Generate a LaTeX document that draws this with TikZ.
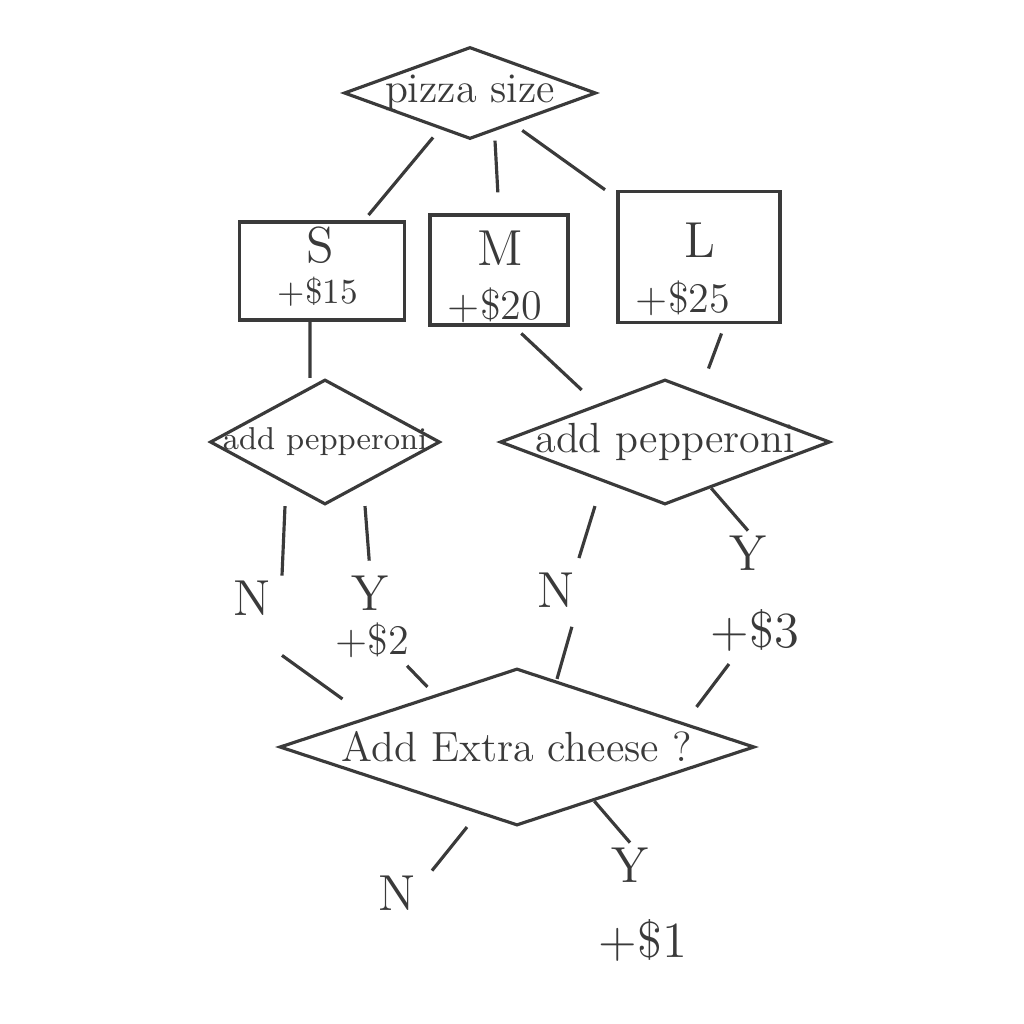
\documentclass[tikz,border=0pt]{standalone}
\usepackage{tikz}
\usetikzlibrary{shapes.geometric}
\definecolor{pen}{HTML}{3A3A3A}

\begin{document}
\begin{tikzpicture}[color=pen, line width=0.9pt,
        choice/.style={draw, diamond, inner sep=0pt},
        sizebox/.style={draw, rectangle, inner sep=0pt},
        answer/.style={font=\Large, inner sep=1pt}]
        \useasboundingbox (0,0) rectangle (10.24,-10.24);
    % The diamonds are the questions.
        \node[choice, minimum width=2.52cm, minimum height=0.92cm, label={[font=\large]center:pizza size}] (size) at (4.70,-0.93) {};
        \node[choice, minimum width=2.30cm, minimum height=1.25cm, label={[font=\small]center:add pepperoni}] (pepl) at (3.25,-4.42) {};
        \node[choice, minimum width=3.30cm, minimum height=1.25cm, label={[font=\large]center:add pepperoni}] (pepr) at (6.65,-4.42) {};
        \node[choice, minimum width=4.75cm, minimum height=1.57cm, label={[font=\large]center:Add Extra cheese ?}] (cheese) at (5.17,-7.47) {};
    % Boxes for the sizes.
        \node[sizebox, minimum width=1.65cm, minimum height=0.98cm] (s) at (3.22,-2.71) {};
        \node[sizebox, minimum width=1.38cm, minimum height=1.10cm] (m) at (4.99,-2.70) {};
        \node[sizebox, minimum width=1.62cm, minimum height=1.31cm] (l) at (6.99,-2.57) {};
    % Below nodes are the labels.
        \node[answer] (stxt) at (3.20,-2.45) {S};
        \node[] (sprice) at (3.18,-2.92) {+\$15};
        \node[answer] (mtxt) at (5.00,-2.48) {M};
        \node[font=\large] (mprice) at (4.95,-3.05) {+\$20};
        \node[answer] (ltxt) at (7.00,-2.40) {L};
        \node[font=\large] (lprice) at (6.83,-2.98) {+\$25};
        \node[answer] (nl) at (2.52,-5.98) {N};
        \node[answer] (yl) at (3.70,-5.93) {Y};
        \node[font=\large] (pl2) at (3.72,-6.40) {+\$2};
        \node[answer] (nr) at (5.56,-5.90) {N};
        \node[answer] (yr) at (7.48,-5.53) {Y};
        \node[answer] (pr3) at (7.55,-6.30) {+\$3};
        \node[answer] (nb) at (3.97,-8.93) {N};
        \node[answer] (yb) at (6.30,-8.65) {Y};
        \node[answer] (pb1) at (6.43,-9.40) {+\$1};
    % This draws the lines.
        \draw[shorten <=3pt, shorten >=2pt] (size) -- (s);
        \draw[shorten >=6pt] ([xshift=2.5mm]size.south) -- (m.north);
        \draw[shorten <=3pt, shorten >=4pt] (size) -- (l);
        \draw ([xshift=-1.2mm]s.south) -- ([xshift=-1.5mm]pepl.north);
        \draw[shorten <=1mm] ([xshift=1.5mm]m.south) -- ([yshift=2mm]pepr.north west);
        \draw[shorten <=1mm, shorten >=1mm] ([xshift=2.6mm]l.south) -- ([xshift=4mm]pepr.north);
        \draw ([xshift=-4mm]pepl.south) -- ([xshift=3mm]nl.north);
        \draw[shorten >=1mm] ([xshift=4mm]pepl.south) -- (yl.north);
        \draw[shorten >=1mm] ([xshift=-7mm]pepr.south) -- ([xshift=2mm]nr.north);
        \draw (pepr.-45) -- (yr.north);
        \draw ([xshift=3mm,yshift=-3.5mm]nl.south) -- ([xshift=-5.5mm,yshift=0.8mm]cheese.north west);
        \draw ([xshift=-1.5mm,yshift=0.5mm]pl2.south east) -- ([xshift=3mm,yshift=2mm]cheese.north west);
        \draw[shorten <=1.5mm] ([xshift=2mm]nr.south) -- ([xshift=4mm,yshift=-1.2mm]cheese.north);
        \draw[shorten <=1mm] ([xshift=-2mm]pr3.south) -- ([xshift=6mm]cheese.north east);
        \draw ([xshift=-5mm]cheese.south) -- ([xshift=3.5mm]nb.north);
        \draw (cheese.-35) -- (yb.north);
    \end{tikzpicture}
\end{document}
